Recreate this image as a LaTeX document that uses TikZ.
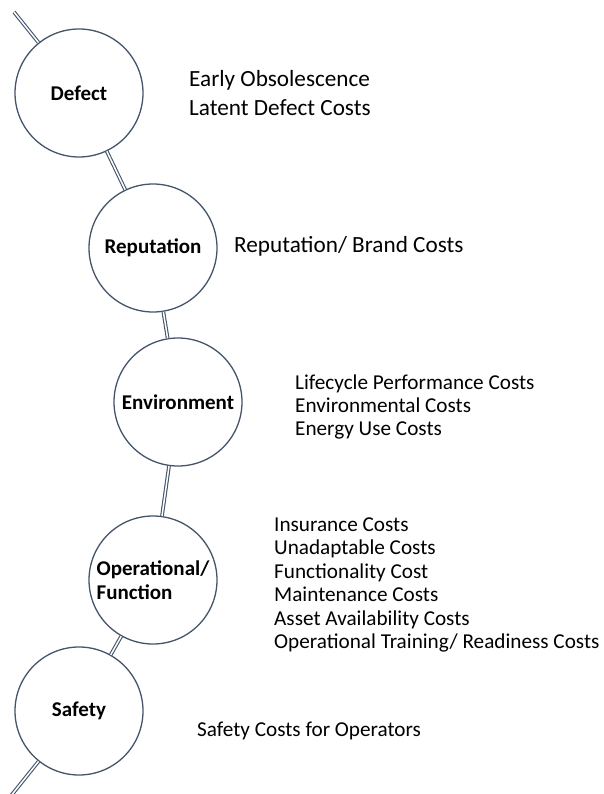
\documentclass[tikz,border=0pt]{standalone}
\usepackage{fontspec}
\setmainfont{Carlito}
\usetikzlibrary{positioning}
\definecolor{slate}{HTML}{44546A}

\begin{document}
\begin{tikzpicture}[x=1pt,y=-1pt,
 stage/.style={circle,draw=slate,line width=1.3pt,fill=white,minimum size=128pt,inner sep=0pt,align=center,font=\fontsize{21}{24}\selectfont\bfseries},
 link/.style={draw=slate,line width=1.1pt,double=white,double distance=1.5pt},
 costs/.style={anchor=west,align=left,inner sep=0pt,font=\fontsize{23.2}{29}\selectfont},
 small costs/.style={costs,font=\fontsize{21.2}{23.4}\selectfont}]
\useasboundingbox (0,0) rectangle (603,794);
\node[stage] (defect) at (79,93) {Defect};
\node[stage] (reput) at (153,248) {Reputation};
\node[stage] (envir) at (178,402) {Environment};
\node[stage,align=left] (oper) at (153,580) {Operational/\\Function};
\node[stage] (safety) at (79,711) {Safety};
\coordinate (top) at (14,12);
\coordinate (bot) at (10,797);
% connectors
\draw[link] (top) -- (defect);
\draw[link] (defect) -- (reput);
\draw[link] (reput) -- (envir);
\draw[link] (envir) -- (oper);
\draw[link] (oper) -- (safety);
\draw[link] (safety) -- (bot);
% cost lists
\node[costs] (defectcosts) at (189,93) {Early Obsolescence\\Latent Defect Costs};
\node[costs] (reputcosts) at (234,246) {Reputation/ Brand Costs};
\node[small costs] (envircosts) at (295,407) {Lifecycle Performance Costs\\Environmental Costs\\Energy Use Costs};
\node[small costs] (opercosts) at (274,585) {Insurance Costs\\Unadaptable Costs\\Functionality Cost\\Maintenance Costs\\Asset Availability Costs\\Operational Training/ Readiness Costs};
\node[small costs] (safetycosts) at (197,731) {Safety Costs for Operators};
\end{tikzpicture}
\end{document}
